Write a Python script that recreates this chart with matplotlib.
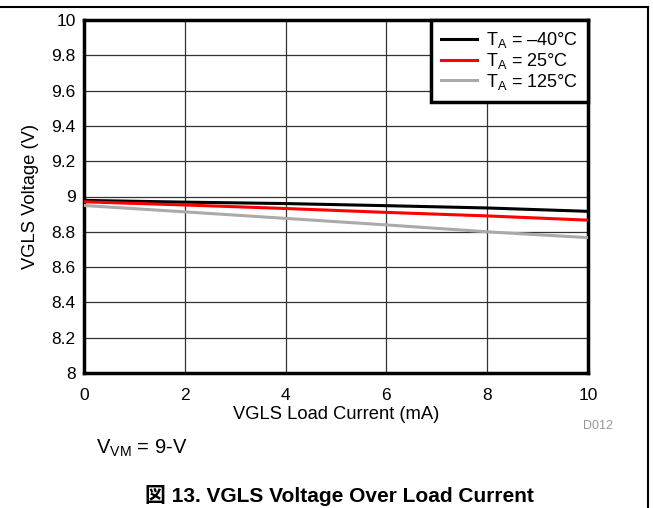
import matplotlib
matplotlib.use("Agg")
import matplotlib.pyplot as plt
from matplotlib.lines import Line2D

plt.rcParams['font.family'] = ['Liberation Sans', 'Noto Sans CJK JP', 'DejaVu Sans']
plt.rcParams['mathtext.fontset'] = 'custom'
plt.rcParams['mathtext.rm'] = 'Liberation Sans'

current = [0, 2, 4, 6, 8, 10]
v_m40 = [8.978, 8.968, 8.960, 8.948, 8.935, 8.916]
v_25 = [8.970, 8.952, 8.932, 8.910, 8.890, 8.866]
v_125 = [8.949, 8.913, 8.876, 8.839, 8.800, 8.767]
labels = ['T$_\\mathregular{A}$ = \u201340\u00b0C', 'T$_\\mathregular{A}$ = 25\u00b0C', 'T$_\\mathregular{A}$ = 125\u00b0C']
xticks = [0, 2, 4, 6, 8, 10]
yticks = [8, 8.2, 8.4, 8.6, 8.8, 9, 9.2, 9.4, 9.6, 9.8, 10]
yticklabels = ['8', '8.2', '8.4', '8.6', '8.8', '9', '9.2', '9.4', '9.6', '9.8', '10']

W, H = 653, 508
fig = plt.figure(figsize=(W / 100, H / 100), dpi=100)
ax = fig.add_axes([84 / W, 1 - 373 / H, (588 - 84) / W, (373 - 20) / H])

ax.plot(current, v_m40, color='black', lw=2.2, label=labels[0], zorder=3)
ax.plot(current, v_25, color='#ff0000', lw=2.2, label=labels[1], zorder=3)
ax.plot(current, v_125, color='#aaaaaa', lw=2.2, label=labels[2], zorder=3)

ax.set_xlim(0, 10)
ax.set_ylim(8, 10)
ax.set_xticks(xticks)
ax.set_yticks(yticks)
ax.set_xticklabels([str(t) for t in xticks])
ax.set_yticklabels(yticklabels)
ax.tick_params(length=0, labelsize=12.5)
ax.tick_params(axis='x', pad=11)
ax.tick_params(axis='y', pad=6)
ax.grid(True, color='#333333', lw=0.9)
for s in ax.spines.values():
    s.set_linewidth(2.5)
    s.set_color('black')

ax.set_xlabel('VGLS Load Current (mA)', fontsize=13.2, labelpad=2)
ax.set_ylabel('VGLS Voltage (V)', fontsize=13.2, labelpad=9)

leg = ax.legend(loc='upper right', fontsize=13, frameon=True, fancybox=False,
                borderaxespad=0, handlelength=2.0, handletextpad=0.5,
                labelspacing=0.05, borderpad=0.55, framealpha=1)
leg.get_frame().set_edgecolor('black')
leg.get_frame().set_linewidth(2.5)

fig.text(583 / W, 1 - 426 / H, 'D012', color='#999999', fontsize=9, ha='left', va='center')
fig.text(96 / W, 1 - 448 / H, 'V$_\\mathregular{VM}$ = 9-V', fontsize=14.5, ha='left', va='center')
fig.text(339 / W, 1 - 495 / H, '図 13. VGLS Voltage Over Load Current', fontsize=15,
         fontweight='bold', ha='center', va='center')

fig.add_artist(Line2D([0, 648 / W], [1 - 6.5 / H, 1 - 6.5 / H], transform=fig.transFigure, color='black', lw=1.5))
fig.add_artist(Line2D([648 / W, 648 / W], [1 - 6.5 / H, 0], transform=fig.transFigure, color='black', lw=1.5))

fig.savefig('out.png', dpi=100)
